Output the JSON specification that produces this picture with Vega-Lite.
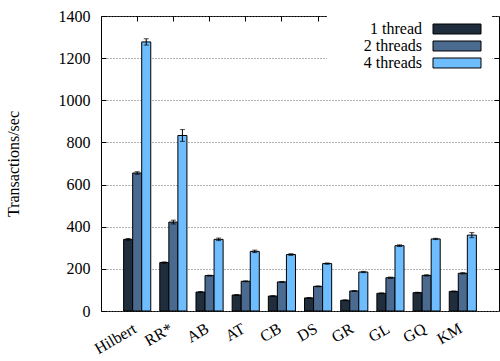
{
  "$schema": "https://vega.github.io/schema/vega-lite/v6.json",
  "width": 398,
  "height": 295,
  "autosize": {"type": "none"},
  "padding": {"left": 101, "top": 16, "right": 1, "bottom": 50},
  "background": "white",
  "config": {
    "view": {"stroke": "black", "strokeWidth": 1},
    "font": "Liberation Serif",
    "axis": {
      "labelFont": "Liberation Serif",
      "labelFontSize": 16,
      "labelColor": "black",
      "titleFont": "Liberation Serif",
      "titleFontSize": 16,
      "titleFontWeight": "normal",
      "titleColor": "black",
      "domain": false,
      "tickColor": "black",
      "gridColor": "#666666",
      "gridDash": [1, 2],
      "gridWidth": 1
    }
  },
  "data": {
    "values": [
      {"bench": "Hilbert", "threads": "1 thread", "value": 340, "lo": 336, "hi": 344},
      {"bench": "Hilbert", "threads": "2 threads", "value": 655, "lo": 649, "hi": 661},
      {"bench": "Hilbert", "threads": "4 threads", "value": 1277, "lo": 1262, "hi": 1292},
      {"bench": "RR*", "threads": "1 thread", "value": 230, "lo": 227, "hi": 233},
      {"bench": "RR*", "threads": "2 threads", "value": 422, "lo": 413, "hi": 431},
      {"bench": "RR*", "threads": "4 threads", "value": 833, "lo": 805, "hi": 861},
      {"bench": "AB", "threads": "1 thread", "value": 90, "lo": 88, "hi": 92},
      {"bench": "AB", "threads": "2 threads", "value": 168, "lo": 166, "hi": 170},
      {"bench": "AB", "threads": "4 threads", "value": 340, "lo": 334, "hi": 346},
      {"bench": "AT", "threads": "1 thread", "value": 76, "lo": 74, "hi": 78},
      {"bench": "AT", "threads": "2 threads", "value": 141, "lo": 139, "hi": 143},
      {"bench": "AT", "threads": "4 threads", "value": 283, "lo": 277, "hi": 289},
      {"bench": "CB", "threads": "1 thread", "value": 71, "lo": 69, "hi": 73},
      {"bench": "CB", "threads": "2 threads", "value": 138, "lo": 136, "hi": 140},
      {"bench": "CB", "threads": "4 threads", "value": 268, "lo": 264, "hi": 272},
      {"bench": "DS", "threads": "1 thread", "value": 62, "lo": 60, "hi": 64},
      {"bench": "DS", "threads": "2 threads", "value": 117, "lo": 115, "hi": 119},
      {"bench": "DS", "threads": "4 threads", "value": 225, "lo": 222, "hi": 228},
      {"bench": "GR", "threads": "1 thread", "value": 51, "lo": 49, "hi": 53},
      {"bench": "GR", "threads": "2 threads", "value": 95, "lo": 93, "hi": 97},
      {"bench": "GR", "threads": "4 threads", "value": 185, "lo": 182, "hi": 188},
      {"bench": "GL", "threads": "1 thread", "value": 84, "lo": 82, "hi": 86},
      {"bench": "GL", "threads": "2 threads", "value": 158, "lo": 155, "hi": 161},
      {"bench": "GL", "threads": "4 threads", "value": 310, "lo": 306, "hi": 314},
      {"bench": "GQ", "threads": "1 thread", "value": 87, "lo": 85, "hi": 89},
      {"bench": "GQ", "threads": "2 threads", "value": 169, "lo": 166, "hi": 172},
      {"bench": "GQ", "threads": "4 threads", "value": 342, "lo": 339, "hi": 345},
      {"bench": "KM", "threads": "1 thread", "value": 93, "lo": 91, "hi": 95},
      {"bench": "KM", "threads": "2 threads", "value": 179, "lo": 176, "hi": 182},
      {"bench": "KM", "threads": "4 threads", "value": 360, "lo": 348, "hi": 372}
    ]
  },
  "layer": [
    {
      "mark": {"type": "bar", "stroke": "black", "strokeWidth": 1, "opacity": 1},
      "encoding": {
        "x": {
          "field": "bench", "type": "nominal", "sort": null,
          "scale": {"paddingInner": 0, "paddingOuter": 0.5},
          "axis": {"orient": "bottom", "title": null, "labelAngle": -30, "labelAlign": "right", "labelBaseline": "top", "labelPadding": 9, "labelOffset": -6, "ticks": false, "grid": false}
        },
        "xOffset": {
          "field": "threads", "type": "nominal",
          "scale": {"paddingInner": 0, "paddingOuter": 0.5}
        },
        "y": {
          "field": "value", "type": "quantitative",
          "scale": {"domain": [0, 1400], "nice": false},
          "axis": {"orient": "left", "title": "Transactions/sec", "format": "d", "values": [0, 200, 400, 600, 800, 1000, 1200, 1400], "grid": true, "tickSize": -5, "labelPadding": 16, "titlePadding": 37}
        },
        "color": {
          "field": "threads", "type": "nominal",
          "scale": {"domain": ["1 thread", "2 threads", "4 threads"], "range": ["#202d3d", "#4a6a8f", "#6ebeff"]},
          "legend": {
            "orient": "none", "legendX": 226, "legendY": -1,
            "title": null, "padding": 9, "fillColor": "white",
            "symbolType": "M-1,-0.2083H1V0.2083H-1Z", "symbolSize": 2304,
            "symbolStrokeColor": "black", "symbolStrokeWidth": 1, "symbolOpacity": 1,
            "labelFont": "Liberation Serif", "labelFontSize": 16, "labelColor": "black",
            "labelLimit": 0, "rowPadding": 1,
            "encode": {
              "labels": {"update": {"align": {"value": "right"}, "baseline": {"value": "middle"}, "x": {"value": 86}, "y": {"value": 5}}},
              "symbols": {"update": {"x": {"value": 121}, "y": {"value": 5}}}
            }
          }
        }
      }
    },
    {
      "mark": {"type": "rule", "color": "black", "strokeWidth": 1},
      "encoding": {
        "x": {"field": "bench", "type": "nominal", "sort": null, "axis": {"orient": "top", "title": null, "labels": false, "tickSize": -5, "grid": false}},
        "xOffset": {"field": "threads", "type": "nominal"},
        "y": {"field": "lo", "type": "quantitative", "axis": {"orient": "right", "title": null, "labels": false, "tickSize": -5, "grid": false, "values": [200, 400, 600, 800, 1000, 1200]}},
        "y2": {"field": "hi"}
      }
    },
    {
      "mark": {"type": "tick", "color": "black", "size": 5, "thickness": 1},
      "encoding": {
        "x": {"field": "bench", "type": "nominal", "sort": null, "axis": null},
        "xOffset": {"field": "threads", "type": "nominal"},
        "y": {"field": "lo", "type": "quantitative", "axis": null}
      }
    },
    {
      "mark": {"type": "tick", "color": "black", "size": 5, "thickness": 1},
      "encoding": {
        "x": {"field": "bench", "type": "nominal", "sort": null, "axis": null},
        "xOffset": {"field": "threads", "type": "nominal"},
        "y": {"field": "hi", "type": "quantitative", "axis": null}
      }
    }
  ],
  "resolve": {"axis": {"x": "independent", "y": "independent"}}
}
